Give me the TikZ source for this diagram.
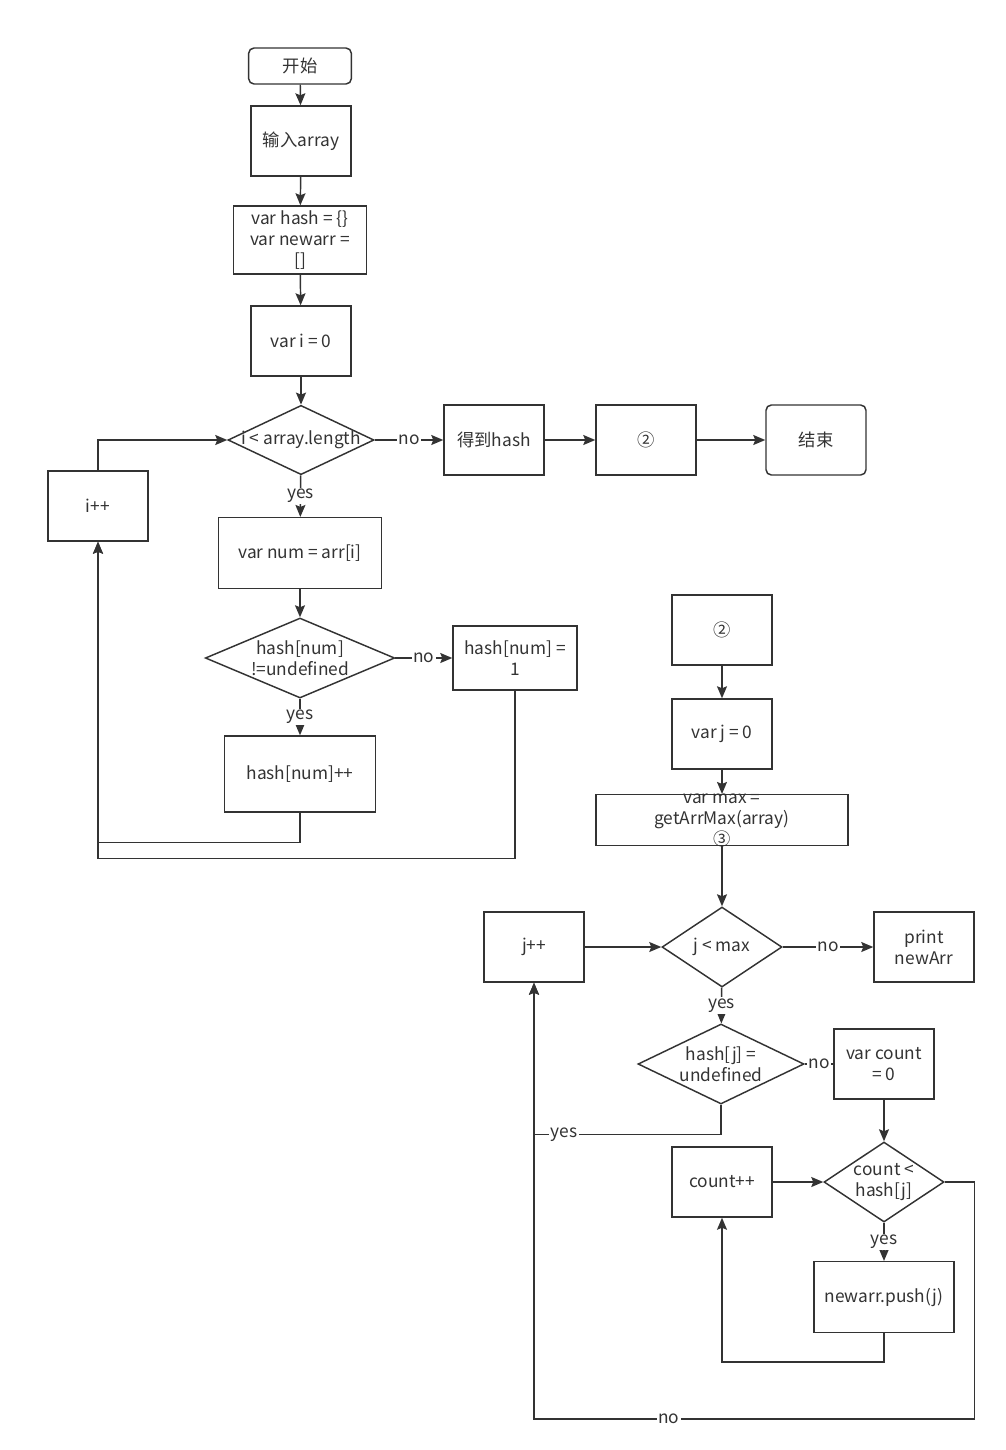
\documentclass[tikz,border=0pt]{standalone}
\usepackage{fontspec}
\newfontfamily\cjk{Noto Sans CJK SC}
\usetikzlibrary{arrows.meta,positioning,shapes.geometric}
\definecolor{fcdark}{RGB}{51,51,51}

\begin{document}
\begin{tikzpicture}[x=0.75pt,y=-0.75pt,
  every node/.style={font=\cjk\fontsize{13}{15.75}\selectfont, text=fcdark},
  procbox/.style={draw=fcdark, line width=1.1pt, minimum width=75pt, minimum height=52.5pt, align=center, inner sep=1pt},
  termbox/.style={procbox, rounded corners=4pt},
  decision/.style={diamond, draw=fcdark, line width=1.1pt, inner sep=0pt},
  link/.style={draw=fcdark, line width=1.1pt},
  flow/.style={link, -{Stealth[length=9pt,width=7.5pt,inset=1.5pt]}},
  lbl/.style={fill=white, inner sep=1pt}]
  \useasboundingbox (0,0) rectangle (1006,1450);
  % Part 1: count into hash
  \node[termbox, minimum width=77pt, minimum height=27pt] (start) at (300,66) {开始};
  \node[procbox] (input) at (301,141) {输入array};
  \node[procbox, minimum width=100pt, minimum height=51pt] (init) at (300,240) {var hash = \{\}\\var newarr =\\{[]}};
  \node[procbox] (seti) at (301,341) {var i = 0};
  \node[decision, minimum width=109.5pt, minimum height=52pt, label={center:i < array.length}] (loopi) at (301,440) {};
  \node[procbox] (gethash) at (494,440) {得到hash};
  \node[procbox] (step2) at (646,440) {②};
  \node[termbox] (finish) at (816,440) {结束};
  \node[procbox] (inci) at (98,506) {i++};
  \node[procbox, minimum width=122pt, minimum height=53pt] (getnum) at (300,553) {var num = arr[i]};
  \node[decision, minimum width=142pt, minimum height=60pt, label={[align=center]center:hash[num]\\!=undefined}] (chknum) at (300,658) {};
  \node[procbox, minimum width=93pt, minimum height=48pt] (setone) at (515,658) {hash[num] =\\1};
  \node[procbox, minimum width=113pt, minimum height=57pt] (incnum) at (300,774) {hash[num]++};
  % Part 2: push j as many times as counted
  \node[procbox] (part2) at (722,630) {②};
  \node[procbox] (setj) at (722,734) {var j = 0};
  \node[procbox, minimum width=189pt, minimum height=38pt, label={[align=center]center:var max =\\getArrMax(array)\\③}] (getmax) at (722,820) {};
  \node[procbox] (incj) at (534,947) {j++};
  \node[decision, minimum width=90pt, minimum height=60pt, label={center:j < max}] (loopj) at (722,947) {};
  \node[procbox] (print) at (924,947) {print\\newArr};
  \node[decision, minimum width=124.5pt, minimum height=60pt, label={[align=center]center:hash[j] =\\undefined}] (chkj) at (721,1064) {};
  \node[procbox] (setcount) at (884,1064) {var count\\= 0};
  \node[procbox] (inccount) at (722,1182) {count++};
  \node[decision, minimum width=90pt, minimum height=60pt, label={[align=center]center:count <\\hash[j]}] (loopc) at (884,1182) {};
  \node[procbox, minimum width=105pt, minimum height=53pt] (push) at (884,1297) {newarr.push(j)};
  % Connectors
  \draw[flow] (start) -- (input);
  \draw[flow] (input) -- (init);
  \draw[flow] (init) -- (seti);
  \draw[flow] (seti) -- (loopi);
  \draw[flow] (loopi) -- node[lbl]{no} (gethash);
  \draw[flow] (gethash) -- (step2);
  \draw[flow] (step2) -- (finish);
  \draw[flow] (loopi) -- node[lbl]{yes} (getnum);
  \draw[flow] (getnum) -- (chknum);
  \draw[flow] (chknum) -- node[lbl]{no} (setone);
  \draw[flow] (chknum) -- node[lbl]{yes} (incnum);
  \draw[flow] (incnum.south) -- ++(0,30) -| (inci.south);
  \draw[flow] (setone.south) -- ++(0,168) -| (inci.south);
  \draw[flow] (inci.north) |- (loopi.west);
  \draw[flow] (part2) -- (setj);
  \draw[flow] (setj) -- (getmax);
  \draw[flow] (getmax) -- (loopj);
  \draw[flow] (incj) -- (loopj);
  \draw[flow] (loopj) -- node[lbl]{no} (print);
  \draw[flow] (loopj) -- node[lbl]{yes} (chkj);
  \draw[link] (chkj) -- node[lbl]{no} (setcount);
  \draw[flow] (chkj.south) -- ++(0,30) -| node[lbl, pos=0.42]{yes} (incj.south);
  \draw[flow] (setcount) -- (loopc);
  \draw[flow] (loopc) -- node[lbl]{yes} (push);
  \draw[flow] (inccount) -- (loopc);
  \draw[flow] (push.south) -- ++(0,29) -| (inccount.south);
  \draw[flow] (loopc.east) -- ++(30,0) -- ++(0,237) -| node[lbl, pos=0.347]{no} (incj.south);
\end{tikzpicture}
\end{document}
